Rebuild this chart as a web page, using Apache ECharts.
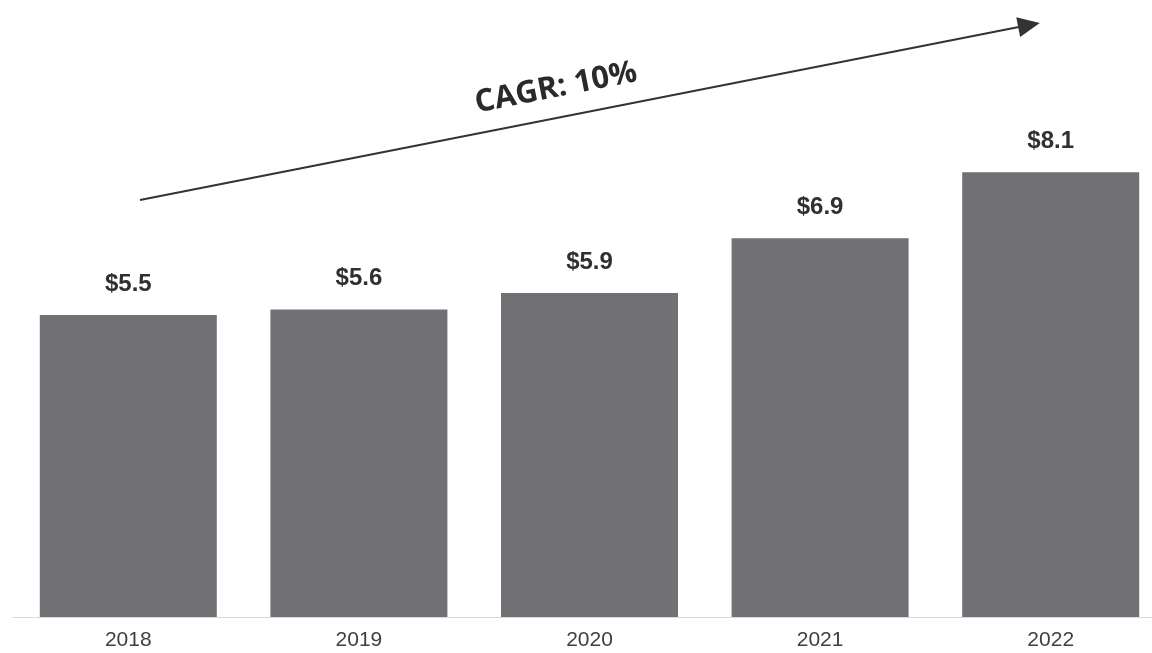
<!DOCTYPE html>
<html>
<head>
<meta charset="utf-8">
<style>
  html, body { margin: 0; padding: 0; background: #fff; overflow: hidden; }
  #chart { width: 1166px; height: 653px; }
</style>
<script src="https://cdn.jsdelivr.net/npm/echarts@6/dist/echarts.min.js"></script>
</head>
<body>
<div id="chart"></div>
<script>
const years = ["2018", "2019", "2020", "2021", "2022"];
const values = [5.5, 5.6, 5.9, 6.9, 8.1];
const cagrText = "CAGR: 10%";

// the original crops the last category slightly, so the canvas runs a bit past the window
const chart = echarts.init(document.getElementById("chart"));

chart.setOption({
  animation: false,
  grid: {
    left: 13,
    right: 0,
    top: 68,
    bottom: 36,
  },
  xAxis: {
    type: "category",
    data: years,
    axisTick: { show: false },
    axisLine: { lineStyle: { color: "#d9d9d9", width: 1 } },
    axisLabel: {
      color: "#404040",
      fontSize: 21,
      fontFamily: "Liberation Sans, Arial, sans-serif",
      margin: 13,
    },
  },
  yAxis: {
    type: "value",
    min: 0,
    max: 10,
    show: false,
    splitLine: { show: false },
  },
  series: [
    {
      type: "bar",
      data: values,
      barWidth: 177,
      itemStyle: { color: "#717175" },
      label: {
        show: true,
        position: "top",
        distance: 19,
        formatter: (p) => "$" + p.value.toFixed(1),
        color: "#303030",
        fontSize: 24,
        fontWeight: "bold",
        fontFamily: "Liberation Sans, Arial, sans-serif",
      },
      markLine: {
        silent: true,
        symbol: ["none", "triangle"],
        symbolSize: [20, 22],
        label: { show: false },
        lineStyle: { color: "#333", width: 2, type: "solid" },
        data: [[{ x: 140, y: 200 }, { x: 1029, y: 25 }]],
      },
    },
  ],
  graphic: [
    {
      type: "text",
      x: 556,
      y: 88,
      rotation: Math.atan2(176, 890),
      style: {
        text: cagrText,
        fill: "#2a2a2a",
        font: "bold 31px 'Open Sans', Lato, sans-serif",
        align: "center",
        verticalAlign: "middle",
      },
    },
  ],
});
</script>
</body>
</html>
